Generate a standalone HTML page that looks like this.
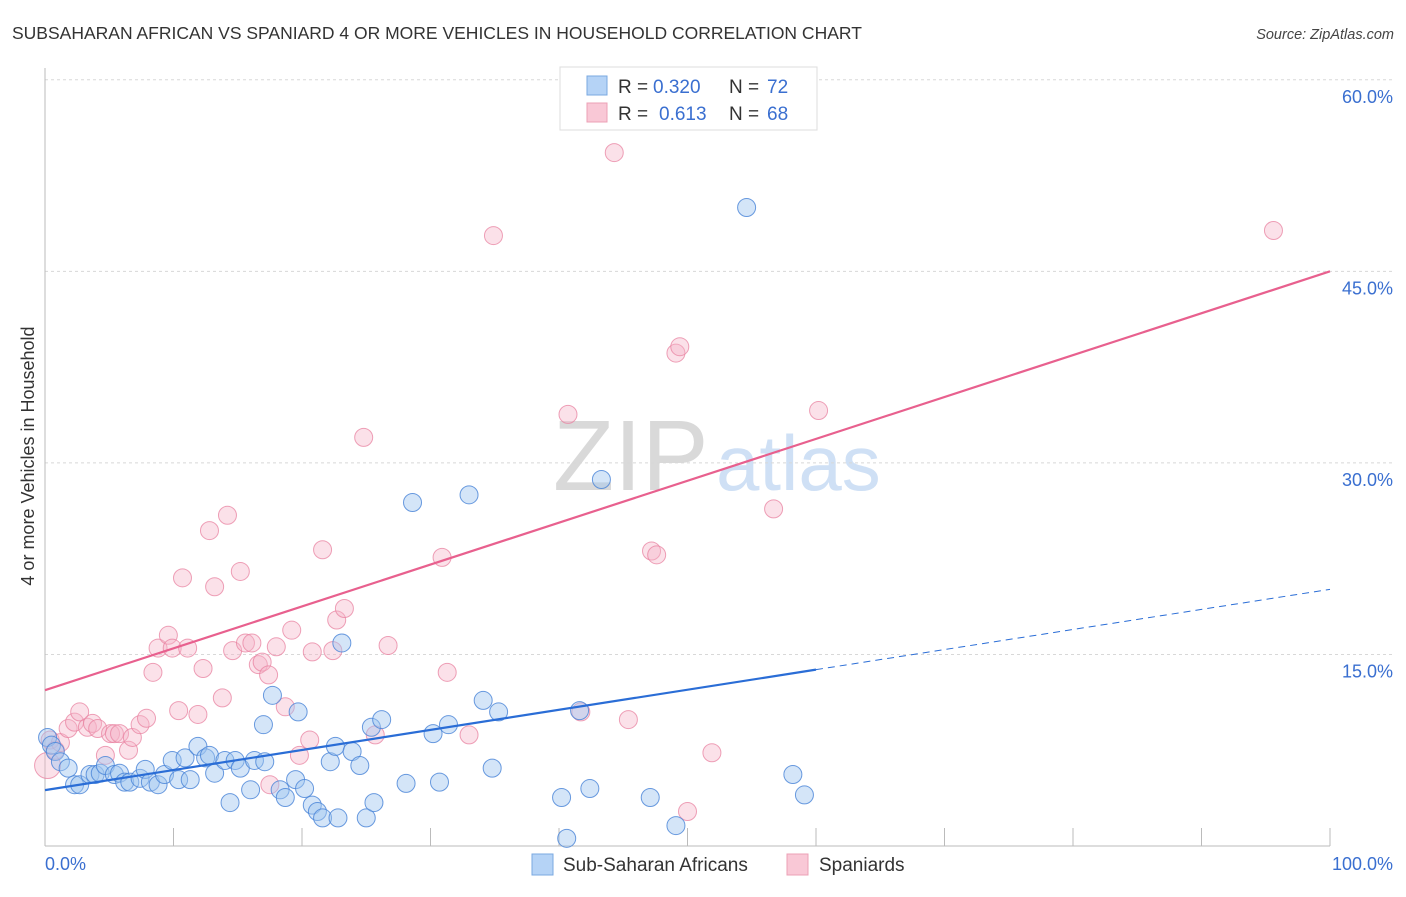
<!DOCTYPE html>
<html><head><meta charset="utf-8"><style>
body{margin:0;background:#fff;}
svg text{font-family:"Liberation Sans",sans-serif;}
</style></head><body>
<svg id="chart" width="1406" height="892" xmlns="http://www.w3.org/2000/svg">
<text x="12" y="39" font-size="17.5" fill="#333">SUBSAHARAN AFRICAN VS SPANIARD 4 OR MORE VEHICLES IN HOUSEHOLD CORRELATION CHART</text>
<text x="1394" y="39" font-size="14.5" fill="#444" font-style="italic" text-anchor="end">Source: ZipAtlas.com</text>
<g>
<text x="553" y="490" font-family="Liberation Serif,serif" font-size="100" fill="#d9d9d9">ZIP</text>
<text x="716" y="490" font-size="78" fill="#cfe0f5">atlas</text>
</g>
<g id="grid"></g>
<g id="axes"></g>
<g id="pts"></g>
<g id="lines"></g>
<g>
<rect x="560" y="67" width="257" height="63" fill="#fff" stroke="#ddd"/>
<rect x="587" y="76" width="20" height="19" fill="#b5d3f6" stroke="#7aa8e0"/>
<rect x="587" y="103" width="20" height="19" fill="#f9c8d6" stroke="#eca0b6"/>
<text x="618" y="93" font-size="19" fill="#333">R =</text>
<text x="653" y="93" font-size="19" fill="#3a6fd0">0.320</text>
<text x="729" y="93" font-size="19" fill="#333">N =</text>
<text x="767" y="93" font-size="19" fill="#3a6fd0">72</text>
<text x="618" y="120" font-size="19" fill="#333">R =</text>
<text x="659" y="120" font-size="19" fill="#3a6fd0">0.613</text>
<text x="729" y="120" font-size="19" fill="#333">N =</text>
<text x="767" y="120" font-size="19" fill="#3a6fd0">68</text>
</g>
<g>
<rect x="532" y="854" width="21" height="21" fill="#b5d3f6" stroke="#7aa8e0"/>
<text x="563" y="871" font-size="19" fill="#333">Sub-Saharan Africans</text>
<rect x="787" y="854" width="21" height="21" fill="#f9c8d6" stroke="#eca0b6"/>
<text x="819" y="871" font-size="19" fill="#333">Spaniards</text>
</g>
<text transform="translate(34,456) rotate(-90)" font-size="18" fill="#333" text-anchor="middle">4 or more Vehicles in Household</text>
</svg>
<script>
const blueX=[0.2,0.5,0.8,1.2,1.8,2.3,2.7,3.5,3.9,4.3,4.7,5.4,5.8,6.2,6.6,7.4,7.8,8.2,8.8,9.3,9.9,10.4,10.9,11.3,11.9,12.5,12.8,13.2,14.0,14.4,14.8,15.2,16.0,16.3,17.1,17.0,17.7,18.3,18.7,19.5,19.7,20.2,20.8,21.2,21.6,22.2,22.6,22.8,23.1,23.9,24.5,25.0,25.6,25.4,26.2,28.1,28.6,30.2,30.7,31.4,33.0,34.1,34.8,35.3,40.2,40.6,42.4,43.3,47.1,49.1,54.6,58.2,59.1,41.6];
const blueY=[8.5,7.9,7.4,6.6,6.1,4.8,4.8,5.6,5.6,5.7,6.3,5.6,5.7,5.0,5.0,5.3,6.0,5.0,4.8,5.6,6.7,5.2,6.9,5.2,7.8,6.9,7.1,5.7,6.7,3.4,6.7,6.1,4.4,6.7,6.6,9.5,11.8,4.4,3.8,5.2,10.5,4.5,3.2,2.7,2.2,6.6,7.8,2.2,15.9,7.4,6.3,2.2,3.4,9.3,9.9,4.9,26.9,8.8,5.0,9.5,27.5,11.4,6.1,10.5,3.8,0.6,4.5,28.7,3.8,1.6,50.0,5.6,4.0,10.6];
const pinkX=[0.2,0.4,0.8,1.2,1.8,2.3,2.7,3.3,3.7,4.1,4.7,5.1,5.4,5.8,6.5,6.8,7.4,7.9,8.4,8.8,9.6,9.9,10.4,10.7,11.1,11.9,12.3,12.8,13.2,13.8,14.2,14.6,15.2,15.6,16.1,16.6,16.9,17.4,17.5,18.0,18.7,19.2,19.8,20.6,20.8,21.6,22.4,22.7,23.3,24.8,25.7,26.7,30.9,31.3,33.0,34.9,40.7,41.7,44.3,45.4,47.2,47.6,49.1,49.4,50.0,51.9,56.7,60.2,95.6];
const pinkY=[6.3,8.3,7.5,8.1,9.2,9.7,10.5,9.3,9.6,9.2,7.1,8.8,8.8,8.8,7.5,8.5,9.5,10.0,13.6,15.5,16.5,15.5,10.6,21.0,15.5,10.3,13.9,24.7,20.3,11.6,25.9,15.3,21.5,15.9,15.9,14.2,14.4,13.4,4.8,15.6,10.9,16.9,7.1,8.3,15.2,23.2,15.3,17.7,18.6,32.0,8.7,15.7,22.6,13.6,8.7,47.8,33.8,10.5,54.3,9.9,23.1,22.8,38.6,39.1,2.7,7.3,26.4,34.1,48.2];
const yTicks=[15,30,45,60];
const yTickLabels=["15.0%","30.0%","45.0%","60.0%"];
const xTicks=[0,10,20,30,40,50,60,70,80,90,100];
const blueTrend=[4.375,20.1];
const pinkTrend=[12.2,45.0];
const NS='http://www.w3.org/2000/svg';
const X=v=>45+v*12.85, Y=v=>846-v*12.77;
function mk(tag,attrs,parent){const e=document.createElementNS(NS,tag);for(const k in attrs)e.setAttribute(k,attrs[k]);parent.appendChild(e);return e;}
const grid=document.getElementById('grid'),axes=document.getElementById('axes'),pts=document.getElementById('pts'),lines=document.getElementById('lines');
yTicks.forEach((t,i)=>{
 const l=mk('line',{x1:45,x2:1394,y1:Y(t),y2:Y(t),stroke:'#d8d8d8','stroke-dasharray':'3,3'},grid);
 
 
 const tx=mk('text',{x:1393,y:Y(t)+23,'font-size':18,fill:'#3a6fd0','text-anchor':'end'},axes);
 tx.textContent=yTickLabels[i];
 
 
});
mk('line',{x1:45,x2:45,y1:68,y2:846,stroke:'#bbb'},axes);
mk('line',{x1:45,x2:1330,y1:846,y2:846,stroke:'#bbb'},axes);
xTicks.forEach(t=>{const l=mk('line',{x1:X(t),x2:X(t),y1:828,y2:846,stroke:'#bbb'},axes);
 
 });
let t0=mk('text',{x:45,y:870,'font-size':18,fill:'#3a6fd0'},axes);t0.textContent='0.0%';


let t1=mk('text',{x:1393,y:870,'font-size':18,fill:'#3a6fd0','text-anchor':'end'},axes);t1.textContent='100.0%';


pinkX.forEach((x,i)=>{const c=mk('circle',{cx:X(x),cy:Y(pinkY[i]),r:i===0?13:9,fill:'rgba(246,180,200,0.4)',stroke:'rgba(232,130,160,0.75)','stroke-width':1},pts);
 
 });
blueX.forEach((x,i)=>{const c=mk('circle',{cx:X(x),cy:Y(blueY[i]),r:9,fill:'rgba(160,198,240,0.45)',stroke:'rgba(70,130,215,0.8)','stroke-width':1},pts);
 
 });
const bAt=v=>blueTrend[0]+(blueTrend[1]-blueTrend[0])*v/100;
let b1=mk('line',{x1:X(0),y1:Y(bAt(0)),x2:X(60),y2:Y(bAt(60)),stroke:'#2a6dd6','stroke-width':2.2},lines);


let b2=mk('line',{x1:X(60),y1:Y(bAt(60)),x2:X(100),y2:Y(bAt(100)),stroke:'#2a6dd6','stroke-width':1,'stroke-dasharray':'7,5'},lines);


let p1=mk('line',{x1:X(0),y1:Y(pinkTrend[0]),x2:X(100),y2:Y(pinkTrend[1]),stroke:'#e8608e','stroke-width':2.2},lines);


</script>
</body></html>
